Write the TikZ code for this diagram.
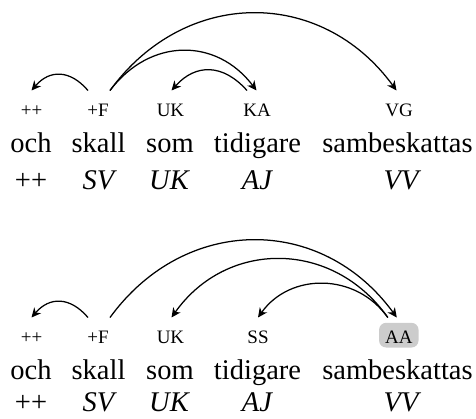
\documentclass[tikz,border=0pt]{standalone}
\usepackage{fontspec}
\setmainfont{Liberation Serif}
\usetikzlibrary{arrows.meta}
\tikzset{
  tagtxt/.style={anchor=base, inner sep=0pt, font=\fontsize{19}{22}\selectfont},
  wordtxt/.style={anchor=base, inner sep=0pt, font=\fontsize{28.5}{32}\selectfont},
  postxt/.style={anchor=base, inner sep=0pt, font=\fontsize{28.5}{32}\selectfont\itshape},
  hilite/.style={fill=black!20, rounded corners=7pt, inner xsep=6pt, inner ysep=0pt,
     text height=20.7pt, text depth=4pt},
  arc/.style={line width=1.25pt, -{Stealth[length=9.5pt,width=9pt,inset=3pt]}}
}
\begin{document}
\begin{tikzpicture}[x=1pt,y=-1pt]
\useasboundingbox (0,0) rectangle (476,418);
% top diagram
\node[tagtxt] (t1) at (31.5,116) {++};
\node[tagtxt] (t2) at (98,116) {+F};
\node[tagtxt] (t3) at (170.5,116) {UK};
\node[tagtxt] (t4) at (257,116) {KA};
\node[tagtxt] (t5) at (399,116) {VG};
\node[wordtxt] (w1) at (31,152.5) {och};
\node[wordtxt] (w2) at (98.5,152.5) {skall};
\node[wordtxt] (w3) at (170,152.5) {som};
\node[wordtxt] (w4) at (257.5,152.5) {tidigare};
\node[wordtxt] (w5) at (397.5,152.5) {sambeskattas};
\node[wordtxt] (p1) at (31,189) {++};
\node[postxt] (p2) at (98.5,189) {SV};
\node[postxt] (p3) at (169,189) {UK};
\node[postxt] (p4) at (257,189) {AJ};
\node[postxt] (p5) at (401,189) {VV};
\draw[arc] ([xshift=-10pt,yshift=25.5pt]t2.base) .. controls +(-18,-21) and +(18,-21) .. ([yshift=25.5pt]t1.base);
\draw[arc] ([xshift=12pt,yshift=25.5pt]t2.base) .. controls +(40,-53) and +(-40,-53) .. ([xshift=-0.5pt,yshift=25.5pt]t4.base);
\draw[arc] ([xshift=-10pt,yshift=25.5pt]t4.base) .. controls +(-24,-27) and +(24,-27) .. ([xshift=1pt,yshift=25.5pt]t3.base);
\draw[arc] ([xshift=12pt,yshift=25.5pt]t2.base) .. controls +(75,-103) and +(-75,-103) .. ([xshift=-2.5pt,yshift=25.5pt]t5.base);
% bottom diagram
\node[tagtxt] (b1) at (31.5,343.5) {++};
\node[tagtxt] (b2) at (98,343.5) {+F};
\node[tagtxt] (b3) at (170.5,343.5) {UK};
\node[tagtxt] (b4) at (258,343.5) {SS};
\node[tagtxt,hilite] (b5) at (398.8,343.5) {AA};
\node[wordtxt] (v1) at (31,379) {och};
\node[wordtxt] (v2) at (98.5,379) {skall};
\node[wordtxt] (v3) at (170,379) {som};
\node[wordtxt] (v4) at (257.5,379) {tidigare};
\node[wordtxt] (v5) at (397.5,379) {sambeskattas};
\node[wordtxt] (q1) at (31,411.5) {++};
\node[postxt] (q2) at (98.5,411.5) {SV};
\node[postxt] (q3) at (169,411.5) {UK};
\node[postxt] (q4) at (257,411.5) {AJ};
\node[postxt] (q5) at (401,411.5) {VV};
\draw[arc] ([xshift=-10pt,yshift=26pt]b2.base) .. controls +(-18,-21) and +(18,-21) .. ([yshift=26pt]b1.base);
\draw[arc] ([xshift=12pt,yshift=26pt]b2.base) .. controls +(75,-103) and +(-75,-103) .. ([xshift=-2pt,yshift=26pt]b5.base);
\draw[arc] ([xshift=-11pt,yshift=26pt]b5.base) .. controls +(-55,-78) and +(55,-78) .. ([xshift=1pt,yshift=26pt]b3.base);
\draw[arc] ([xshift=-11pt,yshift=26pt]b5.base) .. controls +(-32,-45) and +(32,-45) .. ([yshift=26pt]b4.base);
\end{tikzpicture}
\end{document}
